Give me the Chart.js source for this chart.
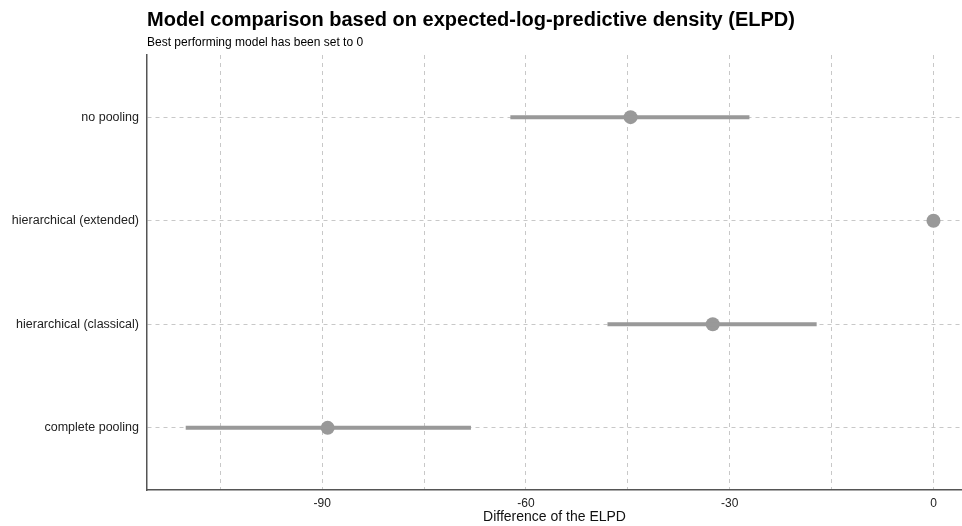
<!DOCTYPE html>
<html>
<head>
<meta charset="utf-8">
<script src="https://cdn.jsdelivr.net/npm/chart.js@4.4.1/dist/chart.umd.min.js"></script>
<style>
  html, body { margin: 0; padding: 0; background: #fff; overflow: hidden; }
</style>
</head>
<body>
<canvas id="elpdChart" width="962" height="526"></canvas>
<script>
// models from top to bottom
const models = ['no pooling', 'hierarchical (extended)', 'hierarchical (classical)', 'complete pooling'];
const elpdDiff = [-44.6, 0, -32.5, -89.2];
const lower = [-62.3, 0, -48.0, -110.1];
const upper = [-27.1, 0, -17.2, -68.1];
const xTicks = [-105, -90, -75, -60, -45, -30, -15, 0];
const xLabeled = [-90, -60, -30, 0];

const FONT = "'Liberation Sans', Arial, sans-serif";
const grey = 'rgb(153,153,153)';

// y position: first model at top
const yPos = (i) => models.length - i;

const datasets = [];
models.forEach((m, i) => {
  datasets.push({
    label: m + ' interval',
    data: [{ x: lower[i], y: yPos(i) }, { x: upper[i], y: yPos(i) }],
    showLine: true,
    borderColor: grey,
    borderWidth: 4,
    pointRadius: 0,
    borderCapStyle: 'butt'
  });
});
datasets.push({
  label: 'ELPD difference',
  data: models.map((m, i) => ({ x: elpdDiff[i], y: yPos(i) })),
  pointRadius: 7,
  pointBackgroundColor: grey,
  pointBorderColor: grey,
  pointBorderWidth: 0,
  showLine: false
});

const titlePlugin = {
  id: 'titles',
  afterDraw(chart) {
    const ctx = chart.ctx;
    const left = chart.chartArea.left;
    ctx.save();
    ctx.fillStyle = '#000';
    ctx.textBaseline = 'alphabetic';
    ctx.textAlign = 'left';
    ctx.font = 'bold 20px ' + FONT;
    ctx.fillText('Model comparison based on expected-log-predictive density (ELPD)', left, 26);
    ctx.font = '12px ' + FONT;
    ctx.fillText('Best performing model has been set to 0', left, 46);
    ctx.restore();
  }
};

new Chart(document.getElementById('elpdChart'), {
  type: 'scatter',
  data: { datasets },
  options: {
    responsive: false,
    animation: false,
    layout: { autoPadding: false, padding: { top: 55, right: 0, left: 0, bottom: 0 } },
    plugins: { legend: { display: false }, tooltip: { enabled: false } },
    scales: {
      x: {
        type: 'linear',
        min: -115.8,
        max: 4.2,
        afterBuildTicks: (s) => { s.ticks = xTicks.map(v => ({ value: v })); },
        afterFit: (s) => { s.height = 36; },
        border: { display: true, color: '#555', width: 1.5, dash: [4, 4] },
        grid: { color: '#c8c8c8', lineWidth: 1, drawTicks: false },
        ticks: {
          padding: 6,
          color: '#222',
          font: { family: FONT, size: 12 },
          callback: (v) => xLabeled.includes(v) ? String(v) : ''
        },
        title: {
          display: true,
          text: 'Difference of the ELPD',
          color: '#111',
          font: { family: FONT, size: 14 },
          padding: { top: 0, bottom: 0 }
        }
      },
      y: {
        type: 'linear',
        min: 0.4,
        max: 4.6,
        afterBuildTicks: (s) => { s.ticks = models.map((m, i) => ({ value: yPos(i) })); },
        afterFit: (s) => { s.width = 147; },
        border: { display: true, color: '#555', width: 1.5, dash: [4, 4] },
        grid: { color: '#c8c8c8', lineWidth: 1, drawTicks: false },
        ticks: {
          padding: 8,
          color: '#222',
          font: { family: FONT, size: 12.5 },
          callback: (v) => models[models.length - v]
        }
      }
    }
  },
  plugins: [titlePlugin]
});
</script>
</body>
</html>
